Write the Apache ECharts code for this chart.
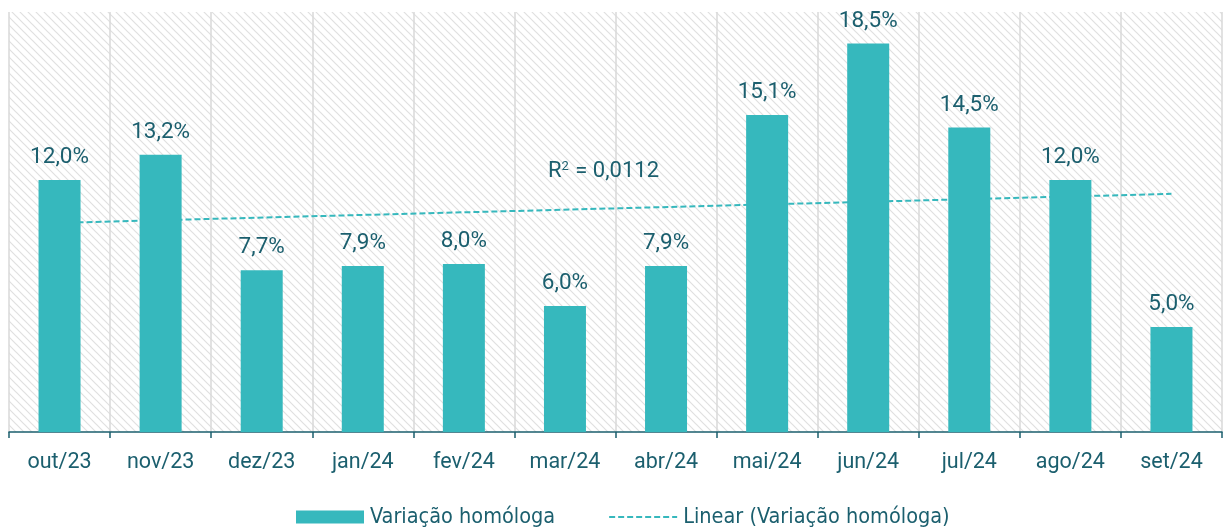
<!DOCTYPE html>
<html><head><meta charset="utf-8">
<script src="https://cdn.jsdelivr.net/npm/echarts@6/dist/echarts.min.js"></script>
<style>html,body{margin:0;padding:0;background:#fff}#c{width:1224px;height:529px}</style>
</head><body><div id="c"></div>
<script>
const categories = ['out/23','nov/23','dez/23','jan/24','fev/24','mar/24','abr/24','mai/24','jun/24','jul/24','ago/24','set/24'];
const variacao = [12.0, 13.2, 7.7, 7.9, 8.0, 6.0, 7.9, 15.1, 18.5, 14.5, 12.0, 5.0];
const trendEnds = [9.96, 11.34];
const r2Text = '0,0112';

const trend = categories.map((c, i) => i === 0 ? trendEnds[0] : (i === categories.length - 1 ? trendEnds[1] : null));

const pc = document.createElement('canvas');
pc.width = 8; pc.height = 8;
const g = pc.getContext('2d');
g.fillStyle = '#ffffff'; g.fillRect(0, 0, 8, 8);
g.strokeStyle = '#e0e0e0'; g.lineWidth = 1.2;
g.beginPath();
g.moveTo(-1, -1); g.lineTo(9, 9);
g.moveTo(-9, -1); g.lineTo(1, 9);
g.moveTo(7, -1); g.lineTo(17, 9);
g.stroke();

const txt = '#1B5F6E';
const teal = '#36B8BD';
const chart = echarts.init(document.getElementById('c'));
chart.setOption({
  animation: false,
  backgroundColor: '#fff',
  grid: { left: 9, right: 2, top: 12, bottom: 97, show: true, borderWidth: 0,
          backgroundColor: { image: pc, repeat: 'repeat' } },
  xAxis: {
    type: 'category', data: categories, boundaryGap: true,
    axisLine: { lineStyle: { color: txt, width: 1.5 } },
    axisTick: { show: true, length: 6, lineStyle: { color: txt, width: 1.5 } },
    axisLabel: { color: txt, fontFamily: 'Roboto', fontSize: 21.5, margin: 20 },
    splitLine: { show: true, lineStyle: { color: '#d9d9d9', width: 1.5 } }
  },
  yAxis: { type: 'value', min: 0, max: 20, show: false, splitLine: { show: false } },
  legend: {
    left: 296, top: 506, padding: 0, itemWidth: 68, itemHeight: 13, itemGap: 53,
    textStyle: { color: txt, fontFamily: "'DejaVu Sans Condensed', 'Liberation Sans Narrow', sans-serif", fontSize: 21.5, padding: [0, 0, 0, 1] },
    data: [{ name: 'Variação homóloga', icon: 'rect' }, { name: 'Linear (Variação homóloga)', itemStyle: { opacity: 0 } }]
  },
  series: [
    { name: 'Linear (Variação homóloga)', type: 'line', data: trend, connectNulls: true,
      symbol: 'none', z: 1,
      lineStyle: { color: teal, width: 2, type: [6, 3] }, itemStyle: { color: teal } },
    { name: 'Variação homóloga', type: 'bar', data: variacao, barWidth: 42, z: 3,
      itemStyle: { color: teal },
      label: { show: true, position: 'top', distance: 11, color: txt, fontFamily: 'Roboto', fontSize: 22.5,
               formatter: p => p.value.toFixed(1).replace('.', ',') + '%' } }
  ],
  graphic: [{
    type: 'text', left: 548, top: 160, z: 10,
    style: { rich: { a: { fontFamily: 'Roboto', fontSize: 22, fill: txt }, s: { fontFamily: 'Roboto', fontSize: 13, fill: txt, verticalAlign: 'top', padding: [0, 1, 9, 0] } },
             text: '{a|R}{s|2}{a| = ' + r2Text + '}' }
  }]
});
</script></body></html>
